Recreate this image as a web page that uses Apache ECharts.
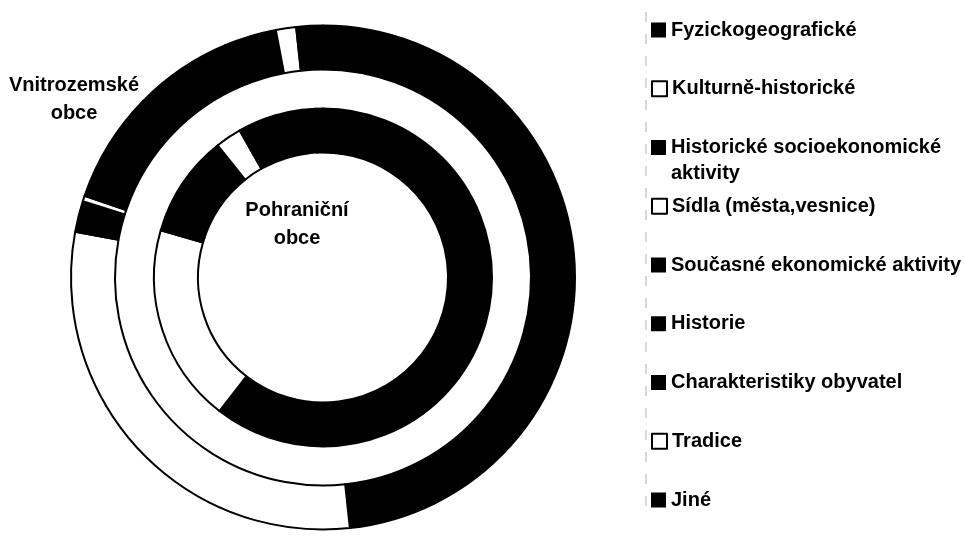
<!DOCTYPE html>
<html>
<head>
<meta charset="utf-8">
<script src="https://cdn.jsdelivr.net/npm/echarts@6/dist/echarts.min.js"></script>
<style>
  html, body { margin: 0; padding: 0; background: #fff; }
  #chart { width: 965px; height: 538px; }
</style>
</head>
<body>
<div id="chart"></div>
<script>
// kategorie (pořadí legendy i výsečí, po směru hodinových ručiček od 12 h)
const categories = [
  'Fyzickogeografické',
  'Kulturně-historické',
  'Historické socioekonomické aktivity',
  'Sídla (města,vesnice)',
  'Současné ekonomické aktivity',
  'Historie',
  'Charakteristiky obyvatel',
  'Tradice',
  'Jiné'
];
// podíly v %
const vnitrozemske = [48.3, 29.6, 2.0, 0.35, 7.1, 6.3, 3.35, 1.3, 1.7];
const pohranicni = [60.5, 19.0, 9.8, 2.5, 3.6, 2.6, 1.3, 0, 0.7];
const ringNames = ['Vnitrozemské obce', 'Pohraniční obce'];

// černá / bílá výplň jednotlivých kategorií
const palette = ['#000', '#fff', '#000', '#fff', '#000', '#000', '#000', '#fff', '#000'];
const font = '"Liberation Sans", Arial, sans-serif';

const chart = echarts.init(document.getElementById('chart'));

function ringData(values) {
  return categories.map(function (name, i) {
    return { name: name, value: values[i], itemStyle: { color: palette[i] } };
  });
}

function ring(name, values, radius) {
  return {
    type: 'pie',
    name: name,
    center: [323, 277.5],
    radius: radius,
    startAngle: 90,
    clockwise: true,
    silent: true,
    animation: false,
    label: { show: false },
    labelLine: { show: false },
    itemStyle: { borderColor: '#000', borderWidth: 2 },
    data: ringData(values)
  };
}

// jedna legenda na položku, aby rozestupy byly stejné jako v originále
// (prázdný první řádek => první řádek textu zůstane u značky)
const wrapped = { 'Historické socioekonomické aktivity': '\nHistorické socioekonomické\naktivity' };
const legends = categories.map(function (name, i) {
  const c = 30 + i * 58.75;
  const twoLines = !!wrapped[name];
  return {
    data: [{
      name: name,
      icon: 'rect',
      itemStyle: palette[i] === '#fff'
        ? { color: '#fff', borderColor: '#000', borderWidth: 2 }
        : { color: '#000', borderWidth: 0 }
    }],
    left: 651,
    top: twoLines ? c - 39 : c - 13,
    padding: 0,
    itemWidth: 15,
    itemHeight: 15,
    selectedMode: false,
    formatter: function (n) { return wrapped[n] || n; },
    textStyle: {
      fontFamily: font,
      fontSize: 20,
      fontWeight: 'bold',
      color: '#000',
      lineHeight: 26
    }
  };
});

const option = {
  backgroundColor: '#fff',
  animation: false,
  legend: legends,
  graphic: [
    {
      type: 'line',
      shape: { x1: 646, y1: 12, x2: 646, y2: 512 },
      style: { stroke: '#b0b0b0', lineWidth: 1, lineDash: [10, 12] }
    },
    {
      type: 'text', x: 74, y: 99,
      style: {
        text: 'Vnitrozemské\nobce', x: 0, y: 0,
        textAlign: 'center', textVerticalAlign: 'middle',
        font: 'bold 20px ' + font, lineHeight: 28, fill: '#000'
      }
    },
    {
      type: 'text', x: 297, y: 224,
      style: {
        text: 'Pohraniční\nobce', x: 0, y: 0,
        textAlign: 'center', textVerticalAlign: 'middle',
        font: 'bold 20px ' + font, lineHeight: 28, fill: '#000'
      }
    }
  ],
  series: [
    ring(ringNames[0], vnitrozemske, [208, 252]),
    ring(ringNames[1], pohranicni, [125, 169])
  ]
};

chart.setOption(option);

window.onresize = function () {
  chart.resize();
};
</script>
</body>
</html>
